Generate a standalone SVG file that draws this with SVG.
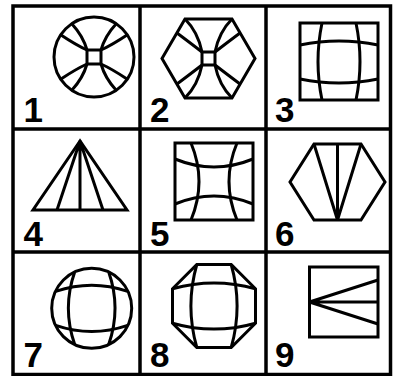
<svg xmlns="http://www.w3.org/2000/svg" width="393" height="376" viewBox="0 0 393 376">
<style>
.grid{fill:none;stroke:#000;stroke-width:3.5}
.s{fill:none;stroke:#000;stroke-width:3;stroke-linejoin:miter}
.lbl{font-family:"Liberation Sans",Arial,sans-serif;font-weight:bold;font-size:35px;fill:#000;stroke:none}
</style>
<rect width="393" height="376" fill="#fff"/>
<g id="grid" class="grid">
<rect x="13" y="6" width="377.5" height="368.5"/>
<line x1="140" y1="6" x2="140" y2="374.5"/>
<line x1="266" y1="6" x2="266" y2="374.5"/>
<line x1="13" y1="129" x2="390.5" y2="129"/>
<line x1="13" y1="252" x2="390.5" y2="252"/>
</g>
<g id="fig1" class="s">
<circle cx="94" cy="57" r="40"/>
<path d="M61,35 Q76,45 87,50 L101,50 Q112,45 127,35"/>
<path d="M61,79 Q76,69 87,64 L101,64 Q112,69 127,79"/>
<path d="M72,24 Q83,36 87,50 L87,64 Q83,78 72,90"/>
<path d="M116,24 Q105,36 101,50 L101,64 Q105,78 116,90"/>
<text class="lbl" x="23.5" y="121.5">1</text>
</g>
<g id="fig2" class="s">
<polygon points="185,19 232,19 255,58.5 232,98 185,98 162,58.5"/>
<path d="M177,33 Q193,45 202,52 L215,52 Q224,45 240,33"/>
<path d="M177,84 Q193,72 202,65 L215,65 Q224,72 240,84"/>
<path d="M185,19 Q198,32 202,52 L202,65 Q198,85 185,98"/>
<path d="M232,19 Q219,32 215,52 L215,65 Q219,85 232,98"/>
<text class="lbl" x="150" y="121.5">2</text>
</g>
<g id="fig3" class="s">
<rect x="300" y="23" width="78" height="77"/>
<path d="M300,45 Q339,37 378,45"/>
<path d="M300,79 Q339,87 378,79"/>
<path d="M322,23 Q314,61.5 322,100"/>
<path d="M356,23 Q364,61.5 356,100"/>
<text class="lbl" x="275" y="121.5">3</text>
</g>
<g id="fig4" class="s">
<polygon points="80,141 33,210 127,210"/>
<path d="M80,141 L57,210 M80,141 L80,210 M80,141 L103,210"/>
<text class="lbl" x="23.5" y="246">4</text>
</g>
<g id="fig5" class="s">
<rect x="175" y="143" width="78" height="77"/>
<path d="M175,159 Q214,175 253,159"/>
<path d="M175,204 Q214,188 253,204"/>
<path d="M191,143 Q207,181.5 191,220"/>
<path d="M237,143 Q221,181.5 237,220"/>
<text class="lbl" x="150" y="246">5</text>
</g>
<g id="fig6" class="s">
<polygon points="314,144 361,144 385,182 361,220 314,220 290,182"/>
<path d="M314,144 L337.5,220 M337.5,144 L337.5,220 M361,144 L337.5,220"/>
<text class="lbl" x="275" y="246">6</text>
</g>
<g id="fig7" class="s">
<circle cx="91.7" cy="308.3" r="40"/>
<path d="M55.7,291.3 Q91.7,279 127.7,291.3"/>
<path d="M55.7,325.3 Q91.7,337.6 127.7,325.3"/>
<path d="M74.7,272.1 Q62,308.3 74.7,344.5"/>
<path d="M108.7,272.1 Q121.4,308.3 108.7,344.5"/>
<text class="lbl" x="23.5" y="366.5">7</text>
</g>
<g id="fig8" class="s">
<polygon points="196.8,264.5 231.2,264.5 255.5,288.8 255.5,323.2 231.2,347.5 196.8,347.5 172.5,323.2 172.5,288.8"/>
<path d="M172.5,288.8 Q214,277 255.5,288.8"/>
<path d="M172.5,323.2 Q214,335 255.5,323.2"/>
<path d="M196.8,264.5 Q185,306 196.8,347.5"/>
<path d="M231.2,264.5 Q243,306 231.2,347.5"/>
<text class="lbl" x="150" y="366.5">8</text>
</g>
<g id="fig9" class="s">
<rect x="309.5" y="267" width="68.5" height="70"/>
<path d="M309.5,302 L378,280 M309.5,302 L378,302 M309.5,302 L378,324"/>
<text class="lbl" x="275" y="366.5">9</text>
</g>
</svg>
